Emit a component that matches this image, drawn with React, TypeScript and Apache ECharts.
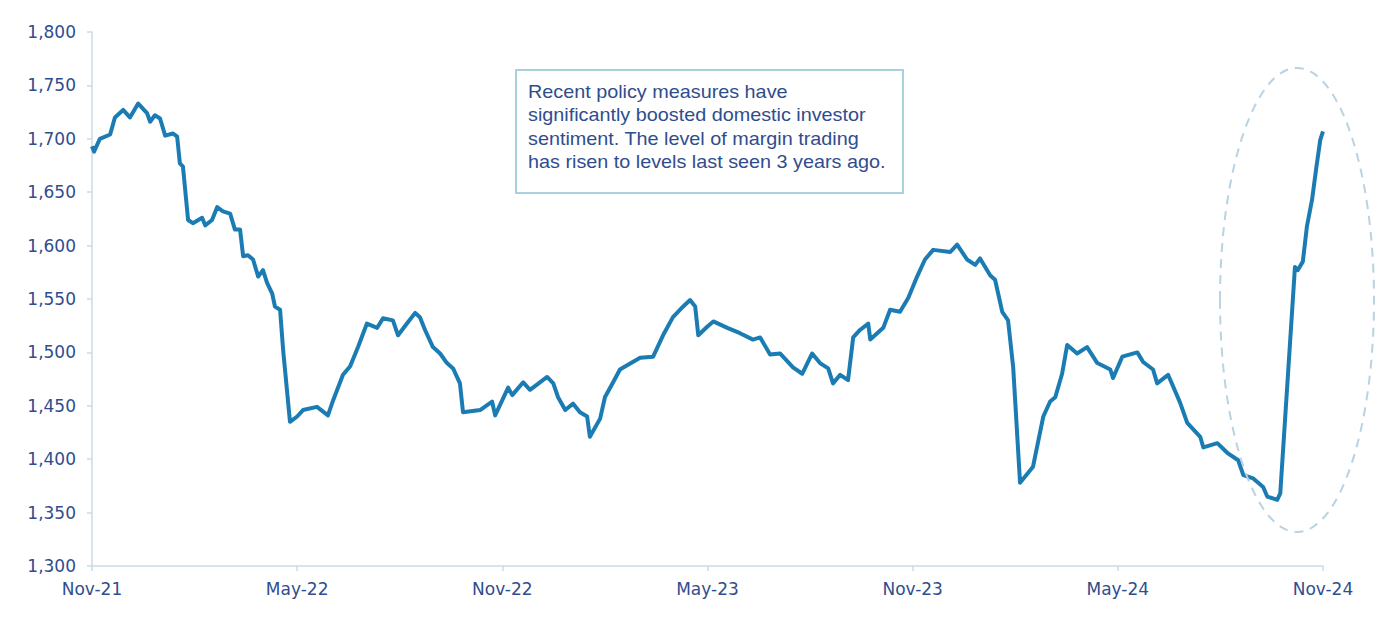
import React, { useEffect, useRef } from "react";
import * as echarts from "echarts";

// x positions in months since Nov-2021, values of the series
const monthOffsets = [
  0.0, 0.06, 0.23, 0.53, 0.67, 0.91, 1.11, 1.35, 1.61, 1.7, 1.84, 1.99, 2.14, 2.37, 2.49, 2.57, 2.66, 2.81, 2.95,
  3.22, 3.31, 3.51, 3.66, 3.83, 4.04, 4.18, 4.33, 4.42, 4.56, 4.71, 4.86, 5.0, 5.12, 5.27, 5.35, 5.5, 5.59, 5.79,
  6.0, 6.17, 6.58, 6.9, 7.05, 7.34, 7.55, 7.78, 8.04, 8.34, 8.51, 8.8, 8.95, 9.21, 9.45, 9.59, 9.74, 9.97, 10.18,
  10.38, 10.56, 10.76, 10.85, 11.35, 11.7, 11.79, 12.17, 12.29, 12.61, 12.81, 13.31, 13.49, 13.63, 13.84, 14.07,
  14.27, 14.48, 14.56, 14.86, 15.0, 15.24, 15.44, 15.65, 16.03, 16.41, 16.7, 16.99, 17.29, 17.49, 17.64, 17.73,
  17.99, 18.17, 18.58, 18.95, 19.33, 19.54, 19.83, 20.12, 20.5, 20.77, 21.06, 21.29, 21.53, 21.67, 21.88, 22.11,
  22.26, 22.46, 22.7, 22.76, 23.14, 23.34, 23.63, 23.87, 24.13, 24.36, 24.6, 25.1, 25.3, 25.59, 25.83, 25.97,
  26.27, 26.41, 26.62, 26.79, 26.94, 27.14, 27.52, 27.82, 28.02, 28.17, 28.37, 28.52, 28.81, 29.1, 29.4, 29.78,
  29.86, 30.13, 30.57, 30.74, 31.03, 31.15, 31.47, 31.82, 32.03, 32.41, 32.5, 32.91, 33.2, 33.52, 33.67, 33.96,
  34.25, 34.37, 34.66, 34.75, 35.18, 35.26, 35.41, 35.53, 35.68, 35.8, 35.92, 36.0,
];

const values = [
  1693, 1688, 1700, 1704, 1720, 1727, 1720, 1733, 1724, 1716, 1722, 1719, 1703, 1705, 1702, 1677, 1674, 1624, 1621,
  1626, 1619, 1624, 1636, 1632, 1630, 1615, 1615, 1590, 1591, 1587, 1571, 1577, 1565, 1555, 1543, 1540, 1502, 1435,
  1440, 1446, 1449, 1441, 1455, 1479, 1487, 1505, 1527, 1523, 1532, 1530, 1516, 1527, 1537, 1533, 1521, 1505, 1499,
  1490, 1485, 1471, 1444, 1446, 1454, 1441, 1467, 1460, 1472, 1465, 1477, 1471, 1458, 1446, 1452,
  1444, 1440, 1421, 1438, 1458, 1472, 1484, 1488, 1495, 1496, 1516, 1533, 1543, 1549, 1543, 1516,
  1524, 1529, 1523, 1518, 1512, 1514, 1498, 1499, 1486, 1480, 1499, 1490, 1485, 1471, 1479, 1474,
  1514, 1521, 1527, 1512, 1523, 1540, 1538, 1551, 1571, 1587, 1596, 1594, 1601, 1587, 1582, 1588,
  1572, 1568, 1538, 1530, 1486, 1378, 1393, 1440, 1454, 1458, 1480, 1507, 1499, 1505, 1490, 1484,
  1476, 1496, 1500, 1491, 1484, 1471, 1479, 1453, 1434, 1421, 1411, 1415, 1406, 1399, 1385, 1382,
  1374, 1365, 1362, 1368, 1580, 1577, 1585, 1618, 1643, 1672, 1699, 1707,
];

const xTickLabels = ["Nov-21", "May-22", "Nov-22", "May-23", "Nov-23", "May-24", "Nov-24"];

const annotationLines = [
  "Recent policy measures have",
  "significantly boosted domestic investor",
  "sentiment. The level of margin trading",
  "has risen to levels last seen 3 years ago.",
];

const TEXT_COLOR = "#2f4d8e";
const AXIS_COLOR = "#c9dde7";
const LINE_COLOR = "#1b7cb3";
const AXIS_FONT = "'DejaVu Sans', sans-serif";
const NOTE_FONT = "'Liberation Sans', Arial, sans-serif";

export default function App() {
  const ref = useRef<HTMLDivElement>(null);

  useEffect(() => {
    document.body.style.margin = "0";
    if (!ref.current) return;
    const chart = echarts.init(ref.current, undefined, { renderer: "svg" });
    const data = monthOffsets.map((m, i) => [m, values[i]]);
    chart.setOption({
      animation: false,
      backgroundColor: "#ffffff",
      textStyle: { fontFamily: AXIS_FONT },
      grid: { left: 92, right: 75, top: 32, bottom: 61, containLabel: false },
      xAxis: {
        type: "value",
        min: 0,
        max: 36,
        interval: 6,
        axisLine: { show: true, lineStyle: { color: AXIS_COLOR, width: 1.5 } },
        axisTick: { show: true, length: 5, lineStyle: { color: AXIS_COLOR, width: 1.5 } },
        splitLine: { show: false },
        axisLabel: {
          margin: 14,
          color: TEXT_COLOR,
          fontSize: 17,
          fontFamily: AXIS_FONT,
          formatter: (v: number) => xTickLabels[Math.round(v / 6)] ?? "",
        },
      },
      yAxis: {
        type: "value",
        min: 1300,
        max: 1800,
        interval: 50,
        axisLine: { show: true, lineStyle: { color: AXIS_COLOR, width: 1.5 } },
        axisTick: { show: true, length: 5, lineStyle: { color: AXIS_COLOR, width: 1.5 } },
        splitLine: { show: false },
        axisLabel: {
          margin: 16,
          color: TEXT_COLOR,
          fontSize: 17,
          fontFamily: AXIS_FONT,
          formatter: (v: number) => v.toLocaleString("en-US"),
        },
      },
      series: [
        {
          type: "line",
          data,
          showSymbol: false,
          symbol: "none",
          lineStyle: { color: LINE_COLOR, width: 4, join: "round" },
        },
      ],
      graphic: [
        {
          type: "rect",
          shape: { x: 516, y: 70, width: 387, height: 123 },
          style: { fill: "#ffffff", stroke: "#a9d1dd", lineWidth: 2 },
          z: 10,
        },
        {
          type: "text",
          x: 528,
          y: 80,
          scaleX: 1.1,
          style: {
            text: annotationLines.join("\n"),
            fill: TEXT_COLOR,
            font: `18px ${NOTE_FONT}`,
            lineHeight: 23.5,
          },
          z: 11,
        },
        {
          type: "ellipse",
          shape: { cx: 1297, cy: 300, rx: 77, ry: 232 },
          style: { fill: "none", stroke: "#b9d3e2", lineWidth: 2, lineDash: [9, 7] },
          z: 5,
        },
      ],
    });
    return () => chart.dispose();
  }, []);

  return <div ref={ref} style={{ width: 1398, height: 627 }} />;
}
